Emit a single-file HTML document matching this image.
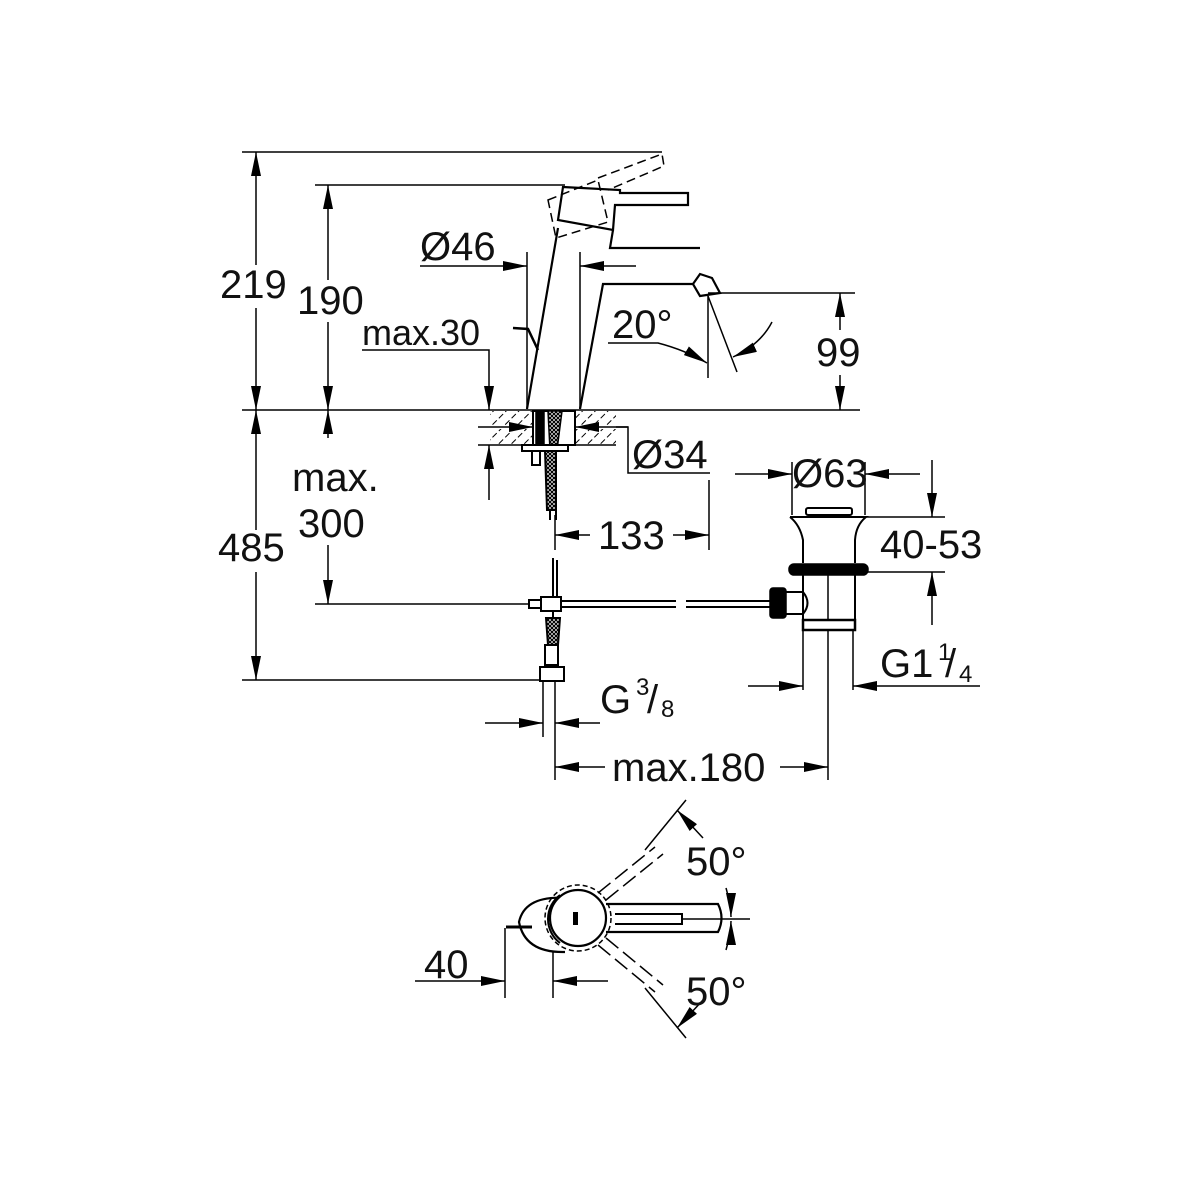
<!DOCTYPE html>
<html><head><meta charset="utf-8"><style>
html,body{margin:0;padding:0;background:#fff}
svg{display:block}
text{font-family:"Liberation Sans",sans-serif;fill:#111}
</style></head><body>
<svg width="1200" height="1200" viewBox="0 0 1200 1200" xmlns="http://www.w3.org/2000/svg">
<defs>
<marker id="a" viewBox="0 0 24 10" refX="24" refY="5" markerWidth="24" markerHeight="10" markerUnits="userSpaceOnUse" orient="auto"><path d="M0,0 L24,5 L0,10 Z" fill="#000"/></marker>
<pattern id="h" width="9" height="9" patternUnits="userSpaceOnUse" patternTransform="rotate(45)"><line x1="0" y1="0" x2="0" y2="9" stroke="#000" stroke-width="2" stroke-dasharray="6 3"/></pattern>
<pattern id="k" width="4" height="4" patternUnits="userSpaceOnUse"><rect width="4" height="4" fill="#fff"/><path d="M0,0L4,4M4,0L0,4" stroke="#000" stroke-width="1.2"/></pattern>
</defs>
<g stroke="#000" stroke-width="1.5" fill="none">
<line x1="242" y1="152" x2="662" y2="152"/>
<line x1="315" y1="185" x2="565" y2="185"/>
<line x1="242" y1="410" x2="860" y2="410"/>
<line x1="315" y1="604" x2="530" y2="604"/>
<line x1="242" y1="680" x2="545" y2="680"/>
<path d="M256,265 L256,152" marker-end="url(#a)"/>
<path d="M256,308 L256,410" marker-end="url(#a)"/>
<path d="M256,530 L256,410" marker-end="url(#a)"/>
<path d="M256,572 L256,680" marker-end="url(#a)"/>
<path d="M328,280 L328,185" marker-end="url(#a)"/>
<path d="M328,322 L328,410" marker-end="url(#a)"/>
<path d="M328,438 L328,410" marker-end="url(#a)"/>
<path d="M328,545 L328,604" marker-end="url(#a)"/>
<path d="M527,409 L558,228 M580,409 L603,284 L693,284" stroke-width="2.2"/>
<path d="M563,187 L620,190 L620,193 L688,193 L688,205 L615,205 L613,230 L558,220 Z" stroke-width="2.2"/>
<path d="M613,230 L610,248 L700,248" stroke-width="2.2"/>
<path d="M693,284 L700,274 L712,278 L720,293 L700,296 Z" stroke-width="2.2"/>
<path d="M513,328 L528,329 L538,350" stroke-width="2.5"/>
<g stroke-dasharray="9 5">
<path d="M548,200 L598,180 L608,222 L556,238 Z"/>
<path d="M598,178 L662,154 L664,166 L608,190"/>
</g>
<line x1="527" y1="252" x2="527" y2="409"/>
<line x1="580" y1="252" x2="580" y2="409"/>
<path d="M420,266 L527,266" marker-end="url(#a)"/>
<path d="M636,266 L580,266" marker-end="url(#a)"/>
<path d="M362,350 L489,350 L489,410" marker-end="url(#a)"/>
<path d="M489,500 L489,445" marker-end="url(#a)"/>
<rect x="490" y="411" width="43" height="16" fill="url(#h)" stroke="none"/>
<rect x="575" y="411" width="41" height="16" fill="url(#h)" stroke="none"/>
<rect x="490" y="429" width="43" height="16" fill="url(#h)" stroke="none"/>
<rect x="575" y="429" width="41" height="16" fill="url(#h)" stroke="none"/>
<line x1="478" y1="445" x2="616" y2="445"/>
<path d="M478,427 L533,427" marker-end="url(#a)"/>
<path d="M628,427 L575,427" marker-end="url(#a)"/>
<path d="M616,427 L628,427 L628,473 L710,473"/>
<rect x="533" y="411" width="42" height="34" fill="#fff" stroke-width="2"/>
<rect x="536" y="411" width="8" height="34" fill="#000"/>
<path d="M548,411 L562,411 L557,450 L550,450 Z" fill="url(#k)"/>
<rect x="522" y="445" width="46" height="6" fill="#fff" stroke-width="2"/>
<rect x="532" y="451" width="8" height="14" stroke-width="2"/>
<path d="M545,451 L556,451 L556,510 L547,510 Z" fill="url(#k)" stroke-width="2"/>
<path d="M550,510 L550,520 M556,510 L556,520" stroke-width="2"/>
<path d="M608,343 L658,343 Q685,350 707,363" marker-end="url(#a)"/>
<line x1="708" y1="296" x2="708" y2="378"/>
<line x1="708" y1="296" x2="737" y2="372"/>
<path d="M772,322 Q760,345 733,357" marker-end="url(#a)"/>
<line x1="708" y1="293" x2="855" y2="293"/>
<path d="M840,330 L840,293" marker-end="url(#a)"/>
<path d="M840,375 L840,410" marker-end="url(#a)"/>
<line x1="555" y1="515" x2="555" y2="550"/>
<line x1="709" y1="480" x2="709" y2="550"/>
<path d="M590,535 L555,535" marker-end="url(#a)"/>
<path d="M673,535 L709,535" marker-end="url(#a)"/>
<line x1="553" y1="558" x2="553" y2="655" stroke-width="2"/>
<line x1="557" y1="560" x2="557" y2="598" stroke-width="2"/>
<rect x="529" y="600" width="12" height="8" fill="#fff" stroke-width="2"/>
<rect x="541" y="597" width="20" height="14" fill="#fff" stroke-width="2"/>
<path d="M561,601 L676,601 M561,607 L676,607 M686,601 L770,601 M686,607 L770,607" stroke-width="2"/>
<path d="M546,618 L560,618 L558,645 L548,645 Z" fill="url(#k)" stroke-width="2"/>
<rect x="545" y="645" width="13" height="20" fill="#fff" stroke-width="2"/>
<rect x="540" y="667" width="24" height="14" fill="#fff" stroke-width="2"/>
<line x1="543" y1="681" x2="543" y2="737"/>
<line x1="555" y1="681" x2="555" y2="780"/>
<path d="M485,723 L543,723" marker-end="url(#a)"/>
<path d="M600,723 L555,723" marker-end="url(#a)"/>
<line x1="828" y1="565" x2="828" y2="780"/>
<path d="M605,767 L555,767" marker-end="url(#a)"/>
<path d="M780,767 L828,767" marker-end="url(#a)"/>
<rect x="770" y="588" width="16" height="30" rx="3" fill="#000"/>
<path d="M786,592 L803,592 Q812,603 803,614 L786,614" stroke-width="2"/>
<rect x="806" y="508" width="46" height="7" rx="2" stroke-width="2"/>
<path d="M790,517 L866,517 Q856,525 855,540 L855,563 M790,517 Q800,525 803,540 L803,563" stroke-width="2"/>
<rect x="789" y="564" width="79" height="11" rx="5" fill="#000"/>
<path d="M803,575 L803,620 M855,575 L855,620" stroke-width="2"/>
<rect x="803" y="620" width="52" height="10" fill="#fff" stroke-width="2.5"/>
<path d="M803,630 L803,690 M853,630 L853,690" stroke-width="1.5"/>
<line x1="792" y1="462" x2="792" y2="515"/>
<line x1="865" y1="462" x2="865" y2="515"/>
<path d="M735,474 L792,474" marker-end="url(#a)"/>
<path d="M920,474 L865,474" marker-end="url(#a)"/>
<line x1="866" y1="517" x2="945" y2="517"/>
<line x1="866" y1="572" x2="945" y2="572"/>
<path d="M932,460 L932,517" marker-end="url(#a)"/>
<path d="M932,625 L932,572" marker-end="url(#a)"/>
<path d="M748,686 L803,686" marker-end="url(#a)"/>
<path d="M980,686 L853,686" marker-end="url(#a)"/>
<path d="M567,898 Q525,895 519,922 Q525,953 565,952" stroke-width="2.2"/>
<path d="M506,927 L532,927" stroke-width="3"/>
<circle cx="578" cy="918" r="28" fill="#fff" stroke-width="2.2"/>
<path d="M560,895 A30,30 0 0 0 560,943" stroke-width="2"/>
<circle cx="578" cy="918" r="33" stroke-dasharray="5 3"/>
<rect x="573" y="912" width="5" height="13" fill="#000" stroke="none"/>
<path d="M606,904 L718,904 Q725,918 718,932 L606,932" stroke-width="2.2"/>
<path d="M615,914 L682,914 L682,924 L615,924" stroke-width="2"/>
<line x1="682" y1="919" x2="750" y2="919"/>
<g stroke-dasharray="16 6">
<line x1="598" y1="893" x2="655" y2="847"/>
<line x1="606" y1="900" x2="663" y2="854"/>
<line x1="598" y1="945" x2="655" y2="992"/>
<line x1="606" y1="938" x2="663" y2="985"/>
</g>
<line x1="645" y1="850" x2="686" y2="800"/>
<line x1="645" y1="988" x2="686" y2="1038"/>
<path d="M703,838 L677,810" marker-end="url(#a)"/>
<path d="M703,1000 L677,1028" marker-end="url(#a)"/>
<path d="M726,888 Q731,905 731,917" marker-end="url(#a)"/>
<path d="M726,950 Q731,933 731,921" marker-end="url(#a)"/>
<line x1="505" y1="928" x2="505" y2="998"/>
<line x1="553" y1="952" x2="553" y2="998"/>
<path d="M415,981 L505,981" marker-end="url(#a)"/>
<path d="M608,981 L553,981" marker-end="url(#a)"/>
</g>
<g font-size="40">
<text x="220" y="298">219</text>
<text x="297" y="314">190</text>
<text x="420" y="260">Ø46</text>
<text x="362" y="345" font-size="36">max.30</text>
<text x="612" y="338">20°</text>
<text x="816" y="366">99</text>
<text x="632" y="468">Ø34</text>
<text x="598" y="549">133</text>
<text x="292" y="491">max.</text>
<text x="298" y="537">300</text>
<text x="218" y="561">485</text>
<text x="792" y="487">Ø63</text>
<text x="880" y="558">40-53</text>
<text x="880" y="677">G1</text>
<text x="938" y="660" font-size="24">1</text>
<text x="945" y="677">/</text>
<text x="959" y="682" font-size="24">4</text>
<text x="600" y="713">G</text>
<text x="636" y="695" font-size="24">3</text>
<text x="647" y="713">/</text>
<text x="661" y="717" font-size="24">8</text>
<text x="612" y="781">max.180</text>
<text x="686" y="875">50°</text>
<text x="686" y="1005">50°</text>
<text x="424" y="978">40</text>
</g>
</svg>
</body></html>
